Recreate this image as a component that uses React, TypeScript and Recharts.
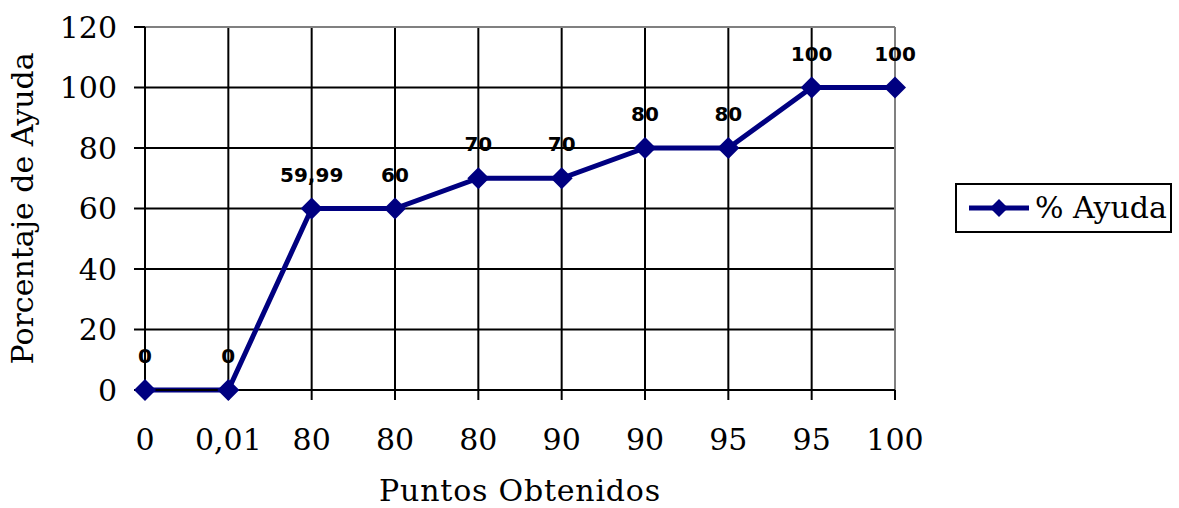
import React from "react";
import {
  LineChart,
  Line,
  CartesianGrid,
  XAxis,
  YAxis,
  Legend,
  LabelList,
  ReferenceLine,
} from "recharts";

const puntos = ["0", "0,01", "80", "80", "80", "90", "90", "95", "95", "100"];
const ayuda = [0, 0, 59.99, 60, 70, 70, 80, 80, 100, 100];
const yTicks = [0, 20, 40, 60, 80, 100, 120];

const data = puntos.map((p, i) => ({ idx: i, punto: p, ayuda: ayuda[i] }));

const NAVY = "#000080";
const SERIF = "'DejaVu Serif', serif";
const SANS = "'DejaVu Sans', sans-serif";

const Diamond = (props: any) => {
  const { cx, cy } = props;
  if (cx == null || cy == null) return null;
  const r = 11;
  return (
    <polygon
      points={`${cx},${cy - r} ${cx + r},${cy} ${cx},${cy + r} ${cx - r},${cy}`}
      fill={NAVY}
    />
  );
};

const fmt = (v: any) => String(v).replace(".", ",");

const LegendBox = () => (
  <div
    style={{
      border: "2px solid #000",
      width: 213,
      height: 46,
      display: "flex",
      alignItems: "center",
      boxSizing: "content-box",
      background: "#fff",
    }}
  >
    <svg width={68} height={30} style={{ marginLeft: 10 }}>
      <line x1={2} y1={15} x2={62} y2={15} stroke={NAVY} strokeWidth={5} />
      <polygon points="32,6 41,15 32,24 23,15" fill={NAVY} />
    </svg>
    <span
      style={{
        fontFamily: SERIF,
        fontSize: 30,
        color: "#000",
        marginLeft: 0,
        lineHeight: 1,
        whiteSpace: "nowrap",
      }}
    >
      % Ayuda
    </span>
  </div>
);

export default function App() {
  return (
    <div style={{ position: "absolute", left: 0, top: 0, background: "#fff" }}>
      <LineChart
        width={1179}
        height={508}
        data={data}
        margin={{ top: 27, right: 284, bottom: 0, left: 0 }}
      >
        <CartesianGrid stroke="#000" strokeWidth={2} />
        <XAxis
          dataKey="idx"
          type="number"
          domain={[0, 9]}
          ticks={data.map((d) => d.idx)}
          tickFormatter={(v: number) => puntos[v]}
          interval={0}
          height={118}
          stroke="#000"
          strokeWidth={2}
          tickSize={10}
          tickMargin={29}
          tick={{ fill: "#000", fontFamily: SERIF, fontSize: 30 }}
          label={{
            value: "Puntos Obtenidos",
            position: "insideBottom",
            offset: 7,
            fill: "#000",
            fontFamily: SERIF,
            fontSize: 30,
            letterSpacing: 0.8,
          }}
        />
        <YAxis
          domain={[0, 120]}
          ticks={yTicks}
          width={145}
          stroke="#000"
          strokeWidth={2}
          tickSize={11}
          tickMargin={17}
          tick={{ fill: "#000", fontFamily: SERIF, fontSize: 30 }}
          label={{
            value: "Porcentaje de Ayuda",
            angle: -90,
            position: "insideLeft",
            offset: 22,
            style: { textAnchor: "middle" },
            fill: "#000",
            fontFamily: SERIF,
            fontSize: 30,
          }}
        />
        <ReferenceLine y={120} stroke="#808080" strokeWidth={2} />
        <ReferenceLine x={9} stroke="#808080" strokeWidth={2} />
        <Legend
          layout="horizontal"
          align="center"
          verticalAlign="middle"
          content={() => <LegendBox />}
          wrapperStyle={{ left: 955, top: 183, width: 217 }}
        />
        <Line
          type="linear"
          dataKey="ayuda"
          name="% Ayuda"
          stroke={NAVY}
          strokeWidth={5}
          dot={<Diamond />}
          activeDot={false}
          isAnimationActive={false}
        >
          <LabelList
            dataKey="ayuda"
            position="top"
            offset={27}
            formatter={fmt}
            fill="#000"
            fontFamily={SANS}
            fontWeight="bold"
            fontSize={20}
          />
        </Line>
      </LineChart>
    </div>
  );
}
